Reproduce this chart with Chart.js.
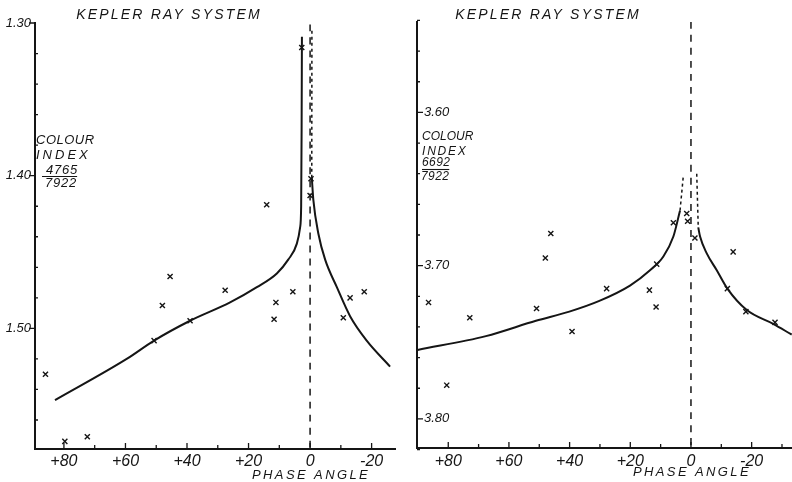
<!DOCTYPE html>
<html><head><meta charset="utf-8">
<script src="https://cdn.jsdelivr.net/npm/chart.js@4.4.1/dist/chart.umd.min.js"></script>
<style>
html,body{margin:0;padding:0;background:#fff;width:792px;height:482px;overflow:hidden}
#l{position:absolute;left:0;top:0;width:396px;height:482px}
#r{position:absolute;left:396px;top:0;width:396px;height:482px}
</style></head>
<body>
<div id="l"><canvas id="cl" width="396" height="482"></canvas></div>
<div id="r"><canvas id="cr" width="396" height="482"></canvas></div>
<script>
// ---------- DATA ----------
// Left panel: colour index 4765/7922
const leftObsPhase  = [86.0, 79.7, 72.4, 50.7, 48.0, 45.5, 39.0, 27.6, 14.1, 11.7, 11.1, 5.6, 2.7, -0.3, 0.0, -10.8, -13.0, -17.6];
const leftObsColour = [1.530, 1.574, 1.571, 1.508, 1.485, 1.466, 1.495, 1.475, 1.419, 1.494, 1.483, 1.476, 1.316, 1.402, 1.413, 1.493, 1.480, 1.476];
const leftFitAPhase  = [82.9, 59.6, 50.7, 39.0, 26.0, 17.3, 10.8, 7.1, 4.3, 3.25, 2.9, 2.75, 2.65];
const leftFitAColour = [1.547, 1.520, 1.508, 1.495, 1.483, 1.473, 1.464, 1.455, 1.4445, 1.434, 1.420, 1.370, 1.309];
const leftFitBPhase  = [-0.55, -1.07, -2.7, -4.9, -8.7, -13.0, -18.4, -26.0];
const leftFitBColour = [1.401, 1.416, 1.438, 1.455, 1.473, 1.492, 1.508, 1.525];
const leftFitBDashPhase  = [-0.6, -0.55];
const leftFitBDashColour = [1.305, 1.401];
const leftZeroPhase  = [0, 0];
const leftZeroColour = [1.301, 1.579];

// Right panel: colour index 6692/7922
const rightObsPhase  = [86.5, 80.5, 72.9, 50.9, 48.0, 46.2, 39.2, 27.8, 13.7, 11.5, 11.3, 5.8, 1.4, 1.1, -1.3, -12.0, -13.9, -18.1, -27.7];
const rightObsColour = [3.724, 3.778, 3.734, 3.728, 3.695, 3.679, 3.743, 3.715, 3.716, 3.727, 3.699, 3.672, 3.666, 3.671, 3.682, 3.715, 3.691, 3.730, 3.737];
const rightFitAPhase  = [90.1, 67.6, 51.1, 40.1, 30.2, 20.1, 13.5, 9.1, 5.8, 3.6];
const rightFitAColour = [3.755, 3.746, 3.736, 3.730, 3.723, 3.713, 3.703, 3.694, 3.681, 3.664];
const rightFitADashPhase  = [3.6, 2.5];
const rightFitADashColour = [3.664, 3.641];
const rightFitBPhase  = [-2.4, -3.0, -5.2, -8.5, -12.0, -18.4, -27.1, -33.2];
const rightFitBColour = [3.675, 3.681, 3.692, 3.703, 3.715, 3.729, 3.738, 3.745];
const rightFitBDashPhase  = [-1.9, -2.4];
const rightFitBDashColour = [3.640, 3.675];
const rightZeroPhase  = [0, 0];
const rightZeroColour = [3.541, 3.819];

// Ticks
const xTickValues = [80, 60, 40, 20, 0, -20];
const xTickLabels = ['+80', '+60', '+40', '+20', '0', '-20'];
const xMinorValues = [90, 70, 50, 30, 10, -10, -30];
const leftYTickValues = [1.30, 1.40, 1.50];
const leftYTickLabels = ['1.30', '1.40', '1.50'];
const leftYMinorValues = [1.32, 1.34, 1.36, 1.38, 1.42, 1.44, 1.46, 1.48, 1.52, 1.54, 1.56];
const rightYTickValues = [3.60, 3.70, 3.80];
const rightYTickLabels = ['3.60', '3.70', '3.80'];
const rightYMinorValues = [3.54, 3.56, 3.58, 3.62, 3.64, 3.66, 3.68, 3.72, 3.74, 3.76, 3.78, 3.82];

const titleText = 'KEPLER RAY SYSTEM';
const xTitleText = 'PHASE ANGLE';
const leftYTitle = ['COLOUR', 'INDEX', '4765', '7922'];
const rightYTitle = ['COLOUR', 'INDEX', '6692', '7922'];

// ---------- helpers ----------
const INK = '#151515';
const FONT = '"Liberation Sans", Arial, sans-serif';
const pts = (xs, ys) => xs.map((x, i) => ({x: x, y: ys[i]}));

function curve(xs, ys, dash, width) {
  return {type: 'line', data: pts(xs, ys), borderColor: INK, borderWidth: width || 2,
    borderDash: dash || [], pointRadius: 0, showLine: true, fill: false,
    cubicInterpolationMode: 'monotone'};
}
function scatter(xs, ys) {
  return {type: 'scatter', data: pts(xs, ys), pointStyle: 'crossRot', pointRadius: 3.6,
    borderColor: INK, backgroundColor: INK, borderWidth: 1.4, showLine: false};
}

const decoPlugin = {
  id: 'deco',
  afterDraw(chart, args, o) {
    const ctx = chart.ctx, xs = chart.scales.x, ys = chart.scales.y, ca = chart.chartArea;
    ctx.save();
    ctx.fillStyle = INK; ctx.strokeStyle = INK; ctx.lineWidth = 1.3;
    ctx.beginPath();
    xTickValues.forEach(v => { const p = xs.getPixelForValue(v); ctx.moveTo(p, ca.bottom); ctx.lineTo(p, ca.bottom - 6); });
    xMinorValues.forEach(v => { const p = xs.getPixelForValue(v); if (p > ca.left + 2 && p < ca.right - 1) { ctx.moveTo(p, ca.bottom); ctx.lineTo(p, ca.bottom - 4); } });
    o.yMajor.forEach(v => { const p = ys.getPixelForValue(v); ctx.moveTo(ca.left, p); ctx.lineTo(ca.left + o.majorDir * 6, p); });
    o.yMinor.forEach(v => { const p = ys.getPixelForValue(v); ctx.moveTo(ca.left, p); ctx.lineTo(ca.left + 3, p); });
    ctx.stroke();

    const text = (s, x, y, size, sp, align) => {
      ctx.font = 'italic ' + size + 'px ' + FONT;
      ctx.letterSpacing = sp + 'px';
      ctx.textAlign = align; ctx.textBaseline = 'middle';
      ctx.fillText(s, x, y);
      return ctx.measureText(s).width;
    };
    text(titleText, o.titleX, 15, 14, 2.2, 'center');
    text(xTitleText, xs.getPixelForValue(0) + 1, o.xTitleY, 13, 2.4, 'center');
    const c = o.cl;
    text(o.yTitle[0], c.x, c.y[0], c.size, c.sp[0], 'left');
    text(o.yTitle[1], c.x, c.y[1], c.size, c.sp[1], 'left');
    const w = text(o.yTitle[2], c.x + c.numDx, c.y[2], c.size, c.sp[2], 'left');
    text(o.yTitle[3], c.x + c.numDx - 1, c.y[3], c.size, c.sp[2], 'left');
    ctx.lineWidth = 1.1;
    ctx.beginPath(); ctx.moveTo(c.x + c.lineDx, c.uy); ctx.lineTo(c.x + c.numDx + w - 1, c.uy); ctx.stroke();
    ctx.restore();
  }
};

function makeChart(id, cfg) {
  return new Chart(document.getElementById(id), {
    type: 'scatter',
    data: {datasets: cfg.datasets},
    options: {
      responsive: false, animation: false, devicePixelRatio: 1,
      layout: {padding: cfg.padding, autoPadding: false},
      plugins: {legend: {display: false}, tooltip: {enabled: false}, title: {display: false},
        deco: cfg.deco},
      scales: {
        x: {type: 'linear', reverse: true, min: cfg.xMin, max: cfg.xMax,
          afterBuildTicks: s => { s.ticks = xTickValues.map(v => ({value: v})); },
          afterFit: s => { s.height = cfg.xAxisH; s.paddingLeft = 0; s.paddingRight = 0; },
          grid: {display: false, drawTicks: false},
          border: {display: true, color: INK, width: 2},
          ticks: {color: INK, padding: cfg.xTickPad, maxRotation: 0, autoSkip: false,
            font: {family: FONT, size: 16, style: 'italic'},
            callback: (v, i) => xTickLabels[i]}},
        y: {type: 'linear', reverse: true, min: cfg.yMin, max: cfg.yMax,
          afterBuildTicks: s => { s.ticks = cfg.yTicks.map(v => ({value: v})); },
          afterFit: s => { s.width = cfg.yAxisW; s.paddingTop = 0; s.paddingBottom = 0; },
          grid: {display: false, drawTicks: false},
          border: {display: true, color: INK, width: 2},
          ticks: {color: INK, padding: cfg.yTickPad, mirror: cfg.mirror, autoSkip: false,
            font: {family: FONT, size: 13, style: 'italic'},
            callback: (v, i) => cfg.yLabels[i]}}
      }
    },
    plugins: [decoPlugin]
  });
}

makeChart('cl', {
  datasets: [
    curve(leftZeroPhase, leftZeroColour, [7, 6], 1.5),
    curve(leftFitAPhase, leftFitAColour),
    curve(leftFitBPhase, leftFitBColour),
    curve(leftFitBDashPhase, leftFitBDashColour, [3, 3], 1.5),
    scatter(leftObsPhase, leftObsColour)
  ],
  padding: {top: 23, right: 1, left: 0, bottom: 0},
  xMin: -27.6, xMax: 89.4, yMin: 1.30, yMax: 1.579,
  xAxisH: 33, yAxisW: 35, xTickPad: 3, yTickPad: 4, mirror: false,
  yTicks: leftYTickValues, yLabels: leftYTickLabels,
  deco: {yMajor: leftYTickValues, yMinor: leftYMinorValues, majorDir: -1,
    titleX: 169, xTitleY: 475, yTitle: leftYTitle,
    cl: {x: 36, y: [140, 155, 170, 183], size: 13, sp: [0.5, 3, 0.8], numDx: 10, lineDx: 6, uy: 176.5}}
});

makeChart('cr', {
  datasets: [
    curve(rightZeroPhase, rightZeroColour, [7, 6], 1.5),
    curve(rightFitAPhase, rightFitAColour),
    curve(rightFitADashPhase, rightFitADashColour, [3, 3], 1.5),
    curve(rightFitBPhase, rightFitBColour),
    curve(rightFitBDashPhase, rightFitBDashColour, [3, 3], 1.5),
    scatter(rightObsPhase, rightObsColour)
  ],
  padding: {top: 22, right: 0, left: 0, bottom: 0},
  xMin: -33.3, xMax: 90.3, yMin: 3.541, yMax: 3.819,
  xAxisH: 34, yAxisW: 21, xTickPad: 4, yTickPad: 7, mirror: true,
  yTicks: rightYTickValues, yLabels: rightYTickLabels,
  deco: {yMajor: rightYTickValues, yMinor: rightYMinorValues, majorDir: 1,
    titleX: 152, xTitleY: 472, yTitle: rightYTitle,
    cl: {x: 26, y: [137, 152, 163, 177], size: 12, sp: [0, 1.8, 0.4], numDx: 0, lineDx: 0, uy: 169.5}}
});
</script>
</body></html>
